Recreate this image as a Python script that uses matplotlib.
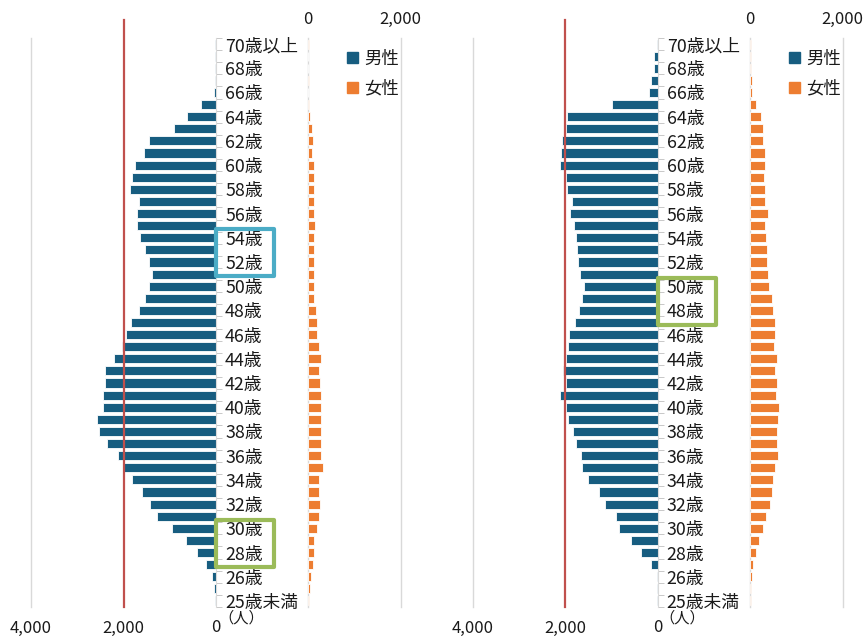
import matplotlib
matplotlib.use('Agg')
from matplotlib import pyplot as plt
from matplotlib.patches import Patch, Rectangle
from matplotlib.transforms import blended_transform_factory
from matplotlib.ticker import FixedLocator

plt.rcParams['font.family'] = ['Noto Sans CJK JP', 'DejaVu Sans']

# categories from bottom to top
ages = ['25歳未満'] + [f'{a}歳' for a in range(25, 70)] + ['70歳以上']

# left chart (bottom -> top)
left_male = [15, 36, 79, 216, 404, 656, 958, 1276, 1434, 1593, 1816, 2018,
             2112, 2350, 2530, 2573, 2450, 2450, 2393, 2393, 2212, 2026, 1939,
             1838, 1658, 1535, 1456, 1377, 1456, 1535, 1636, 1715, 1715, 1672,
             1853, 1816, 1758, 1557, 1456, 915, 634, 318, 40, 30, 20, 20, 20]
left_female = [22, 36, 58, 101, 122, 122, 202, 238, 259, 238, 238, 317,
               274, 274, 274, 274, 274, 274, 259, 238, 274, 238, 194,
               202, 173, 137, 137, 137, 137, 122, 137, 151, 137, 122,
               137, 122, 137, 80, 101, 80, 43, 20, 10, 20, 10, 10, 20]

# right chart (bottom -> top)
right_male = [12, 12, 12, 152, 354, 570, 830, 910, 1148, 1271, 1509, 1632,
              1668, 1769, 1834, 1935, 1993, 2108, 1993, 2050, 1993, 1935, 1913,
              1791, 1711, 1646, 1588, 1689, 1733, 1755, 1769, 1812, 1892, 1848,
              1957, 1993, 2108, 2087, 2065, 1986, 1964, 989, 188, 144, 87, 87, 14]
right_female = [14, 14, 36, 58, 130, 195, 274, 354, 433, 469, 491, 534,
                614, 592, 592, 614, 628, 570, 592, 549, 592, 513, 549,
                534, 491, 469, 411, 390, 375, 375, 354, 332, 390, 332,
                332, 310, 332, 332, 274, 274, 231, 130, 36, 36, 14, 14, 14]

legend_labels = ['男性', '女性']
male_color = '#175D80'
female_color = '#ED7D31'
grid_color = '#D9D9D9'
text_color = '#1A1A1A'

W, H = 865, 637
fig = plt.figure(figsize=(W / 100, H / 100), dpi=100)


def fx(px):
    return px / W


def draw_panel(x_male, x_female, male, female, boxes):
    bottom, height = (H - 607) / H, 569 / H
    ax_m = fig.add_axes([fx(x_male), bottom, fx(185), height])
    ax_f = fig.add_axes([fx(x_female), bottom, fx(92.5), height])
    y = list(range(len(ages)))

    # male side
    ax_m.barh(y, male, height=0.75, color=male_color, edgecolor='white', linewidth=0.6, zorder=2)
    ax_m.set_xlim(4000, 0)
    ax_m.set_ylim(-0.5, len(ages) - 0.5)
    for s in ['top', 'left', 'bottom']:
        ax_m.spines[s].set_visible(False)
    ax_m.spines['right'].set_color(grid_color)
    ax_m.axvline(4000, color=grid_color, lw=1, zorder=0, clip_on=False)
    ax_m.set_xticks([4000, 2000, 0])
    ax_m.set_xticklabels(['4,000', '2,000', '0'])
    ax_m.tick_params(axis='x', length=0, pad=9, labelsize=12, labelcolor=text_color)
    ax_m.yaxis.tick_right()
    ax_m.set_yticks(y)
    ax_m.set_yticklabels([a if i % 2 == 0 else '' for i, a in enumerate(ages)])
    ax_m.tick_params(axis='y', length=0, pad=6.5, labelsize=12.8, labelcolor=text_color)
    ax_m.yaxis.set_minor_locator(FixedLocator([i - 0.5 for i in range(len(ages) + 1)]))
    ax_m.tick_params(axis='y', which='minor', length=4, color='#BFBFBF', right=True)
    for lab in ax_m.get_yticklabels():
        lab.set_verticalalignment('center_baseline')

    # red reference line at 2,000
    tr = blended_transform_factory(ax_m.transData, ax_m.transAxes)
    ax_m.plot([2000, 2000], [0, 1 + 18 / 569], color='#C0504D', lw=1.6,
              transform=tr, clip_on=False, zorder=5)

    # female side
    ax_f.barh(y, female, height=0.75, color=female_color, edgecolor='white', linewidth=0.6, zorder=2)
    ax_f.set_xlim(0, 2000)
    ax_f.set_ylim(-0.5, len(ages) - 0.5)
    for s in ax_f.spines.values():
        s.set_visible(False)
    for v in [0, 2000]:
        ax_f.axvline(v, color=grid_color, lw=1, zorder=0, clip_on=False)
    ax_f.xaxis.tick_top()
    ax_f.set_xticks([0, 2000])
    ax_f.set_xticklabels(['0', '2,000'])
    ax_f.tick_params(axis='x', length=0, pad=7.5, labelsize=12, labelcolor=text_color)
    ax_f.set_yticks([])

    handles = [Patch(color=male_color), Patch(color=female_color)]
    ax_f.legend(handles, legend_labels, loc='upper left', bbox_to_anchor=(0.33, 0.995),
                frameon=False, fontsize=12.5, handlelength=0.6, handleheight=0.6,
                handletextpad=0.4, labelspacing=0.7, borderpad=0, labelcolor=text_color)

    # unit label
    fig.text(fx(x_male + 185 + 25), (H - 618) / H, '（人）', ha='center', va='center',
             fontsize=11, color=text_color)

    # highlight boxes around labels
    trb = blended_transform_factory(ax_m.transAxes, ax_m.transData)
    for lo, hi, col in boxes:
        y0 = ages.index(lo) - 1.2
        y1 = ages.index(hi) + 0.7
        ax_m.add_patch(Rectangle((1.0, y0), 58 / 185, y1 - y0, transform=trb, fill=False,
                                 edgecolor=col, lw=3, clip_on=False, zorder=6,
                                 joinstyle='round'))
    return ax_m, ax_f


draw_panel(31, 308, left_male, left_female,
           [('52歳', '54歳', '#4BACC6'), ('28歳', '30歳', '#9BBB59')])
draw_panel(472.7, 750, right_male, right_female,
           [('48歳', '50歳', '#9BBB59')])

fig.savefig('out.png', dpi=100)
